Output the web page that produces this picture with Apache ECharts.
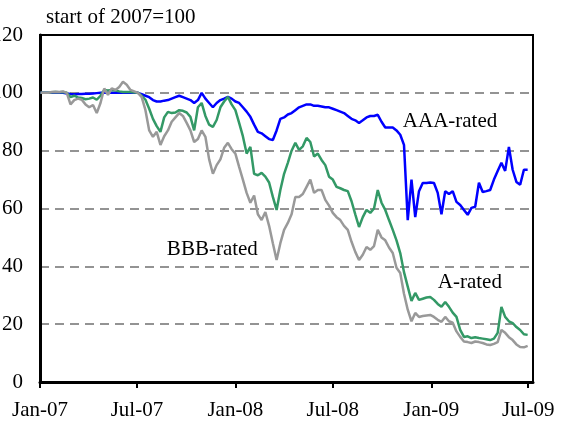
<!DOCTYPE html>
<html>
  <head>
    <meta charset="utf-8" />
    <title>ECharts</title>
    <script src="https://cdn.jsdelivr.net/npm/echarts@6.0.0/dist/echarts.min.js"></script>
    <style>
      html, body { margin: 0; padding: 0; background: #fff; }
    </style>
  </head>
  <body>
    <div id="chartContainer" style="width: 563px;height:423px;"></div>
    <script>
        // weekly readings (Tuesdays), start of 2007 = 100
        var dates = [
          '2007-01-02','2007-01-09','2007-01-16','2007-01-23','2007-01-30',
          '2007-02-06','2007-02-13','2007-02-20','2007-02-27',
          '2007-03-06','2007-03-13','2007-03-20','2007-03-27',
          '2007-04-03','2007-04-10','2007-04-17','2007-04-24',
          '2007-05-01','2007-05-08','2007-05-15','2007-05-22','2007-05-29',
          '2007-06-05','2007-06-12','2007-06-19','2007-06-26',
          '2007-07-03','2007-07-10','2007-07-17','2007-07-24','2007-07-31',
          '2007-08-07','2007-08-14','2007-08-21','2007-08-28',
          '2007-09-04','2007-09-11','2007-09-18','2007-09-25',
          '2007-10-02','2007-10-09','2007-10-16','2007-10-23','2007-10-30',
          '2007-11-06','2007-11-13','2007-11-20','2007-11-27',
          '2007-12-04','2007-12-11','2007-12-18','2007-12-25',
          '2008-01-01','2008-01-08','2008-01-15','2008-01-22','2008-01-29',
          '2008-02-05','2008-02-12','2008-02-19','2008-02-26',
          '2008-03-04','2008-03-11','2008-03-18','2008-03-25',
          '2008-04-01','2008-04-08','2008-04-15','2008-04-22','2008-04-29',
          '2008-05-06','2008-05-13','2008-05-20','2008-05-27',
          '2008-06-03','2008-06-10','2008-06-17','2008-06-24',
          '2008-07-01','2008-07-08','2008-07-15','2008-07-22','2008-07-29',
          '2008-08-05','2008-08-12','2008-08-19','2008-08-26',
          '2008-09-02','2008-09-09','2008-09-16','2008-09-23','2008-09-30',
          '2008-10-07','2008-10-14','2008-10-21','2008-10-28',
          '2008-11-04','2008-11-11','2008-11-18','2008-11-25',
          '2008-12-02','2008-12-09','2008-12-16','2008-12-23','2008-12-30',
          '2009-01-06','2009-01-13','2009-01-20','2009-01-27',
          '2009-02-03','2009-02-10','2009-02-17','2009-02-24',
          '2009-03-03','2009-03-10','2009-03-17','2009-03-24','2009-03-31',
          '2009-04-07','2009-04-14','2009-04-21','2009-04-28',
          '2009-05-05','2009-05-12','2009-05-19','2009-05-26',
          '2009-06-02','2009-06-09','2009-06-16','2009-06-23','2009-06-30'
        ];

        var aaaRated = [
          100, 100, 100, 100, 100, 100, 100, 99.8, 99.6, 99.5,
          99.6, 99.6, 99.7, 99.7, 99.8, 99.9, 100, 100, 100, 100,
          100, 100, 100, 100, 100, 100, 100, 99.5, 99, 98.5,
          97.5, 97, 97, 97.3, 97.5, 98, 98.5, 99, 98.5, 98,
          97.5, 96.5, 97.5, 100, 98, 96.5, 95, 96.5, 97.5, 98,
          98.6, 98, 97, 96.5, 95, 93.5, 91.7, 89, 86.5, 86,
          85, 84, 83.7, 87, 91, 91.5, 92.5, 93, 94, 95,
          95.5, 96, 96, 95.5, 95.5, 95.3, 95, 95, 94.5, 94,
          93.5, 93, 92, 91, 90.5, 89.6, 90.5, 91.5, 92, 92,
          92.4, 90, 88, 88, 88, 87, 85.5, 82, 56, 70,
          57, 66, 68.8, 68.8, 69, 68.8, 65.4, 58, 66, 65,
          66, 62.3, 61.2, 59.5, 57.8, 60.2, 60.6, 68.9, 65.7, 66,
          66.4, 70, 73, 75.8, 73, 81.3, 73.4, 69.2, 68.2, 73.4,
          73.4
        ];

        var aRated = [
          100, 100, 100, 100.2, 100.3, 100.2, 100.3, 100, 98.5, 99,
          98.4, 98.2, 97.8, 98, 98.4, 97.6, 99, 101, 100.8, 101,
          100.8, 100.5, 100.3, 100.3, 100.3, 100.1, 100, 99, 97.6, 94.5,
          91, 88.5, 86.5, 91.5, 93.4, 93, 93.2, 94, 93.8, 93.2,
          91.7, 87, 95, 96.5, 92, 89, 88.2, 90.6, 95, 97,
          98.6, 96, 94, 89.6, 85, 79, 81.3, 72, 71.5, 72.3,
          71, 69, 64, 59.5, 66.4, 72, 75.8, 80, 82.7, 80.3,
          81.5, 84.4, 83, 78, 79, 76.8, 75, 71, 70, 67.5,
          67, 66.4, 66, 62.5, 58, 53.6, 57, 59.5, 58.5, 60,
          66.4, 62, 59.5, 56, 52.6, 49, 44.6, 38, 33, 28,
          30.8, 28.4, 28.8, 29.2, 29.4, 28.4, 27, 26, 27.7, 26,
          24, 22.5, 18, 15.6, 15.8, 15.2, 15.5, 15.2, 15, 14.8,
          14.5, 15, 17, 26, 22.5, 21, 20.4, 19, 18, 16.5,
          16.3
        ];

        var bbbRated = [
          100, 100, 100, 100.3, 100.4, 100.3, 100.5, 100, 96, 97.5,
          98, 97.6, 96, 95, 95.8, 93, 96.5, 101.5, 99.3, 101.5,
          101, 102, 103.8, 102.8, 101, 100.5, 100, 98.5, 94, 87,
          84.8, 86.5, 82, 85, 87, 90, 91.5, 93, 92, 89.6,
          87, 83, 84, 87, 84.8, 77, 72, 75, 77, 81,
          82.7, 80.5, 79, 74.4, 70, 65.4, 62, 64.5, 58, 56,
          58.8, 54, 48, 42.2, 48, 52.6, 55, 58, 64, 64,
          65, 67.5, 70, 65.4, 66.4, 66.4, 63, 61, 58.5, 57,
          56, 54, 52.6, 48.5, 45, 42.2, 44, 46.7, 45.7, 47,
          52.6, 50, 49, 46.5, 44.6, 39.5, 37.7, 30.5, 25, 21,
          23.9, 22.5, 22.8, 23, 23.2, 22.5, 21.5, 20.8, 22.5, 21,
          20.5, 17.5, 15.6, 14, 13.8, 13.5, 14, 13.8, 13.5, 13,
          12.8, 13.2, 13.8, 18, 17, 15.5, 14.5, 13, 12.1, 12,
          12.5
        ];

        var tickDates = ['2007-01-01', '2007-07-01', '2008-01-01', '2008-07-01', '2009-01-01', '2009-07-01'];
        var tickLabels = ['Jan-07', 'Jul-07', 'Jan-08', 'Jul-08', 'Jan-09', 'Jul-09'];

        var serif = '"Liberation Serif", "Times New Roman", serif';

        function ts(d) {
          return echarts.time.parse(d).getTime();
        }
        var tickTimes = tickDates.map(ts);

        function pairs(vals) {
          return dates.map((d, i) => [ts(d), vals[i]]);
        }

        // text labels pinned to data coordinates
        function note(text, date, value) {
          return {
            symbol: 'circle',
            symbolSize: 1,
            itemStyle: { color: 'rgba(0,0,0,0)' },
            label: {
              show: true,
              position: 'inside',
              formatter: text,
              color: '#000',
              fontSize: 21,
              fontFamily: serif,
            },
            data: [{ coord: [ts(date), value] }],
          };
        }

        var myChart = echarts.init(document.getElementById('chartContainer'));

        var option = {
          animation: false,
          title: {
            text: 'start of 2007=100',
            left: 41,
            top: 2,
            textStyle: { fontSize: 21, fontWeight: 'normal', fontFamily: serif, color: '#000' },
          },
          grid: {
            left: 40,
            top: 35,
            right: 30,
            bottom: 41,
            outerBoundsMode: 'none',
            containLabel: false,
            show: true,
            borderColor: '#000',
            borderWidth: 2,
          },
          xAxis: {
            type: 'value',
            min: ts('2007-01-01'),
            max: ts('2009-07-10'),
            axisLine: { lineStyle: { color: '#000', width: 3 } },
            axisTick: {
              show: true,
              length: 6,
              customValues: tickTimes,
              lineStyle: { color: '#000', width: 2 },
            },
            axisLabel: {
              customValues: tickTimes,
              margin: 18,
              color: '#000',
              fontSize: 21,
              fontFamily: serif,
              formatter: function (v) {
                var i = tickTimes.indexOf(v);
                return i >= 0 ? tickLabels[i] : '';
              },
            },
            splitLine: { show: false },
          },
          yAxis: {
            type: 'value',
            min: 0,
            max: 120,
            interval: 20,
            axisLine: { show: true, lineStyle: { color: '#000', width: 3 } },
            axisTick: { show: false },
            axisLabel: { margin: 17, color: '#000', fontSize: 21, fontFamily: serif },
            splitLine: {
              show: true,
              showMinLine: false,
              showMaxLine: false,
              lineStyle: { color: '#707070', width: 1.5, type: [9, 6] },
            },
          },
          series: [
            {
              name: 'AAA-rated',
              type: 'line',
              data: pairs(aaaRated),
              showSymbol: false,
              lineStyle: { color: '#0000ff', width: 2.5 },
              itemStyle: { color: '#0000ff' },
              markPoint: note('AAA-rated', '2009-02-05', 90),
            },
            {
              name: 'A-rated',
              type: 'line',
              data: pairs(aRated),
              showSymbol: false,
              lineStyle: { color: '#339966', width: 2.5 },
              itemStyle: { color: '#339966' },
              markPoint: note('A-rated', '2009-03-14', 34.3),
            },
            {
              name: 'BBB-rated',
              type: 'line',
              data: pairs(bbbRated),
              showSymbol: false,
              lineStyle: { color: '#999999', width: 2.5 },
              itemStyle: { color: '#999999' },
              markPoint: note('BBB-rated', '2007-11-19', 45.7),
            },
          ],
        };

        myChart.setOption(option);
    </script>
  </body>
</html>
